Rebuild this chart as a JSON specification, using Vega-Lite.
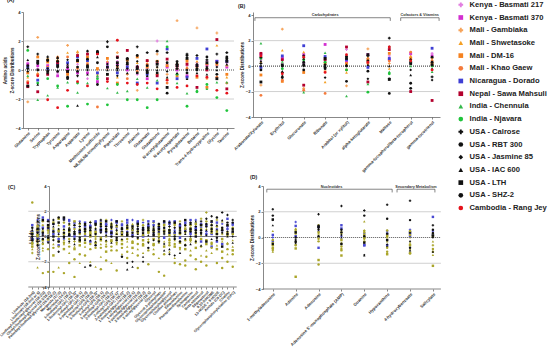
{
"$schema": "https://vega.github.io/schema/vega-lite/v6.json",
"autosize": {"type": "none"},
"padding": {"left": 23, "top": 12, "right": 527, "bottom": 341},
"config": {
 "font": "Liberation Sans",
 "view": {"stroke": null},
 "axis": {"labelFontSize": 4.2, "labelFontWeight": "bold", "labelColor": "#333", "titleFontSize": 4.6, "titleFontWeight": "bold", "titleColor": "#222", "tickSize": 2, "tickColor": "#555", "domainColor": "#555", "domainWidth": 0.7, "tickWidth": 0.7, "grid": false, "labelPadding": 1, "titlePadding": 1},
 "axisX": {"labelAngle": -45, "labelLimit": 0, "title": null},
 "axisY": {"values": [-4, -2, 0, 2, 4]},
 "legend": {"orient": "none", "legendX": 434, "legendY": -11, "labelFontSize": 7.6, "labelFontWeight": "bold", "labelColor": "#222", "symbolSize": 22, "rowPadding": 3.7, "padding": 0, "labelOffset": 5},
 "title": {"fontSize": 5.2, "fontWeight": "bold", "anchor": "start", "frame": "group", "color": "#222"}
},
"datasets": {
 "vars": [{"key":"a","variety":"Kenya - Basmati 217"},{"key":"b","variety":"Kenya - Basmati 370"},{"key":"c","variety":"Mali - Gambiaka"},{"key":"d","variety":"Mali - Shwetasoke"},{"key":"e","variety":"Mali - DM-16"},{"key":"f","variety":"Mali - Khao Gaew"},{"key":"g","variety":"Nicaragua - Dorado"},{"key":"h","variety":"Nepal - Sawa Mahsuli"},{"key":"i","variety":"India - Chennula"},{"key":"j","variety":"India - Njavara"},{"key":"k","variety":"USA - Calrose"},{"key":"l","variety":"USA - RBT 300"},{"key":"m","variety":"USA - Jasmine 85"},{"key":"n","variety":"USA - IAC 600"},{"key":"o","variety":"USA - LTH"},{"key":"p","variety":"USA - SHZ-2"},{"key":"q","variety":"Cambodia - Rang Jey"}],
 "A": [
  {"name":"Glutamine","a":0.5,"b":0.4,"c":-2.2,"d":-0.5,"e":-0.2,"f":-0.8,"g":0.2,"h":-1.15,"i":-0.4,"j":1.35,"k":1.6,"l":0.1,"m":-0.1,"n":0.7,"o":-1.1,"p":0.3,"q":-0.9},
  {"name":"Serine","a":0.1,"b":0.3,"c":2.25,"d":-0.2,"e":0.9,"f":-0.3,"g":-0.7,"h":-1.5,"i":-2.05,"j":-0.9,"k":1.1,"l":0,"m":0.5,"n":-1,"o":0.6,"p":0.45,"q":-0.4},
  {"name":"Tryptophan","a":0.6,"b":0.3,"c":0.75,"d":0.8,"e":0.55,"f":0.2,"g":0.1,"h":-0.3,"i":-1.75,"j":-0.6,"k":0.9,"l":0.65,"m":0.1,"n":-0.2,"o":-0.1,"p":0.7,"q":-2.05},
  {"name":"Tyrosine","a":-0.2,"b":-0.4,"c":0.9,"d":0.7,"e":0.6,"f":0.85,"g":0.4,"h":0.5,"i":-1.2,"j":-1.1,"k":0.2,"l":-0.1,"m":0.8,"n":0.9,"o":0.3,"p":0.6,"q":-2.6},
  {"name":"Asparagine","a":0.3,"b":0.1,"c":1.7,"d":1.2,"e":-0.3,"f":0.9,"g":0.5,"h":-0.1,"i":-0.85,"j":-2.5,"k":0.2,"l":-0.5,"m":0.7,"n":0.4,"o":-0.1,"p":-0.6,"q":-1.4},
  {"name":"Aspartate","a":0.4,"b":-0.2,"c":1.2,"d":1.3,"e":0.6,"f":0.1,"g":0.9,"h":1,"i":-1.55,"j":-0.9,"k":-0.4,"l":0.2,"m":0.7,"n":-2.45,"o":0.65,"p":-0.1,"q":-0.8},
  {"name":"Lysine","a":-0.6,"b":-0.2,"c":0.5,"d":0.8,"e":0.9,"f":0.4,"g":0.65,"h":1.1,"i":-0.9,"j":-2.35,"k":1.3,"l":0.3,"m":0,"n":-0.3,"o":0.2,"p":0.75,"q":-1.1},
  {"name":"Methionine sulfoxide","a":-0.5,"b":-0.8,"c":0,"d":-0.3,"e":0.1,"f":-2.55,"g":-0.2,"h":1.15,"i":-0.4,"j":-0.6,"k":1.2,"l":0.5,"m":1.3,"n":0.9,"o":1.25,"p":-1,"q":1.1},
  {"name":"N6,N6,N6-trimethyllysine","a":0.3,"b":0.5,"c":-0.3,"d":0.6,"e":0.8,"f":0.1,"g":0.2,"h":-0.6,"i":-1.25,"j":-2.4,"k":1.95,"l":1.6,"m":0.4,"n":0,"o":-0.3,"p":0.2,"q":-0.8},
  {"name":"Pipecolate","a":0.6,"b":0.4,"c":1.2,"d":-0.5,"e":-0.9,"f":0.2,"g":-0.2,"h":0.9,"i":-1.55,"j":-1,"k":0.3,"l":0.1,"m":-0.4,"n":0,"o":0.5,"p":0.85,"q":2.05},
  {"name":"Threonine","a":0.3,"b":0,"c":-0.3,"d":0.6,"e":0.7,"f":-0.6,"g":0.2,"h":1.35,"i":-1.45,"j":-2.05,"k":0.8,"l":0.4,"m":0.1,"n":-0.2,"o":0.75,"p":0.5,"q":-0.9},
  {"name":"Alanine","a":-0.3,"b":0.2,"c":-1.4,"d":0.5,"e":0.9,"f":-0.1,"g":-0.9,"h":0.2,"i":-0.6,"j":-2.05,"k":1.6,"l":1,"m":0.6,"n":0.3,"o":0.1,"p":-0.2,"q":-1},
  {"name":"Glutamate","a":0.1,"b":-0.6,"c":0.6,"d":0.7,"e":0.2,"f":0.4,"g":-0.3,"h":0.65,"i":-1.2,"j":-2.6,"k":1.2,"l":-0.2,"m":0,"n":-0.4,"o":-0.1,"p":0.3,"q":-0.9},
  {"name":"Glutathione","a":2,"b":0.5,"c":1.1,"d":0.2,"e":0.6,"f":-0.3,"g":-0.9,"h":-0.4,"i":-0.7,"j":-2.05,"k":0.6,"l":1.3,"m":0.2,"n":0,"o":0.4,"p":-0.2,"q":-1.3},
  {"name":"N-acetylglutamine","a":0.4,"b":0.2,"c":-0.3,"d":-0.6,"e":0.3,"f":-0.9,"g":1.45,"h":0.75,"i":2,"j":1.6,"k":1.2,"l":0.5,"m":-0.1,"n":-0.5,"o":-1.2,"p":-1.6,"q":-0.7},
  {"name":"N-acetylaspartate","a":0.2,"b":0,"c":3.4,"d":0.5,"e":-0.4,"f":0.1,"g":-0.6,"h":0.3,"i":-0.9,"j":-0.3,"k":0.6,"l":0.4,"m":0.55,"n":-0.2,"o":0.3,"p":0.1,"q":-1.2},
  {"name":"Pyroglutamine","a":0.3,"b":-0.4,"c":0.5,"d":0.2,"e":0.65,"f":0.1,"g":-0.5,"h":0.4,"i":-1.6,"j":-2.5,"k":1.1,"l":-0.2,"m":0,"n":-0.6,"o":0.8,"p":1,"q":-1.1},
  {"name":"Betaine","a":0.5,"b":0.3,"c":2.9,"d":0.6,"e":-0.5,"f":0.2,"g":0.8,"h":-1.2,"i":-1.4,"j":-1.5,"k":1,"l":0.1,"m":0.4,"n":-0.2,"o":0.3,"p":0,"q":-0.4},
  {"name":"Trans-4-hydroxyproline","a":0.6,"b":0.3,"c":-0.6,"d":0.2,"e":-1.2,"f":0.4,"g":1.45,"h":0,"i":-1.3,"j":-1,"k":0.7,"l":0.9,"m":0.2,"n":-0.3,"o":0.5,"p":0.1,"q":-0.5},
  {"name":"Glycine","a":0.3,"b":0.6,"c":2.55,"d":1.7,"e":0.4,"f":-0.5,"g":0.6,"h":2.1,"i":-0.85,"j":-1.9,"k":1.1,"l":-0.3,"m":0.2,"n":0,"o":-0.6,"p":0.5,"q":-1.4},
  {"name":"Taurine","a":0.5,"b":0.2,"c":0.3,"d":-0.5,"e":-0.3,"f":-0.9,"g":0.6,"h":-1.3,"i":-0.85,"j":-2.8,"k":1.2,"l":0.9,"m":0.7,"n":0.4,"o":0.6,"p":0.8,"q":-1.6}
 ],
 "B": [
  {"name":"Arabonate/Xylonate","a":0.5,"b":0.9,"c":-1.5,"d":0.3,"e":-0.7,"f":-2.3,"g":-0.1,"h":1,"i":1.8,"j":0.6,"k":0.2,"l":-0.3,"m":0,"n":0.4,"o":-1.25,"p":0.7,"q":0.8},
  {"name":"Erythritol","a":0.7,"b":0.6,"c":2.9,"d":1.25,"e":-1.2,"f":-1.1,"g":0.8,"h":0.5,"i":0.35,"j":-0.2,"k":-0.5,"l":0,"m":-0.8,"n":-0.4,"o":0.1,"p":-0.9,"q":-0.6},
  {"name":"Glucuronate","a":0.2,"b":0.9,"c":-1.75,"d":1.1,"e":-0.5,"f":-1.9,"g":1.6,"h":-1.5,"i":-2.05,"j":0.5,"k":0.8,"l":0.3,"m":0,"n":0.6,"o":0.1,"p":-0.3,"q":0.7},
  {"name":"Ribonate","a":0.4,"b":1.7,"c":-0.4,"d":-1.25,"e":0.2,"f":-2.15,"g":0.75,"h":0.5,"i":1.05,"j":0.3,"k":-0.1,"l":0.1,"m":-0.9,"n":0,"o":0.6,"p":-0.2,"q":-0.5},
  {"name":"Arabitol (or xylitol)","a":1.3,"b":0.3,"c":-1.55,"d":-0.5,"e":0.2,"f":-0.3,"g":0.5,"h":1.5,"i":-2.35,"j":-0.3,"k":0.75,"l":-1.2,"m":0.8,"n":0.1,"o":0.6,"p":0,"q":0.9},
  {"name":"alpha-ketoglutarate","a":0.6,"b":0.9,"c":1.35,"d":0.7,"e":0.5,"f":0.2,"g":-0.1,"h":-1.25,"i":-1.4,"j":-2.05,"k":0.8,"l":0.4,"m":-1,"n":0.1,"o":0.9,"p":-0.4,"q":0.3},
  {"name":"Maltose","a":0.8,"b":0.5,"c":0.2,"d":-0.2,"e":1,"f":0.4,"g":0.6,"h":1.3,"i":-0.45,"j":-0.6,"k":2.2,"l":-1,"m":1.5,"n":0,"o":-1.05,"p":-2.15,"q":1.5},
  {"name":"gamma-tocopherol/beta-tocopherol","a":0.9,"b":1,"c":0.7,"d":0.8,"e":0.6,"f":1.1,"g":0.3,"h":-2,"i":0,"j":0.35,"k":0.5,"l":-1.35,"m":-0.3,"n":-0.7,"o":0.2,"p":-1.75,"q":0.4},
  {"name":"gamma-tocotrienol","a":1,"b":0.8,"c":0.6,"d":0.5,"e":0.2,"f":0.4,"g":1.4,"h":-2.7,"i":-0.45,"j":0,"k":-0.85,"l":0.3,"m":-1.1,"n":-0.2,"o":0.1,"p":0.7,"q":-0.3}
 ],
 "C": [
  {"name":"Linoleate (18:2n6)","a":0.4,"b":-0.2,"c":-1.3,"d":0.1,"e":-0.8,"f":2.7,"g":0.9,"h":-0.5,"i":-1,"j":0.3,"k":0,"l":-0.3,"m":0.5,"n":-0.1,"o":0.2,"p":0.7,"q":-0.6},
  {"name":"Linolenate (18:3n3 or 6)","a":1.3,"b":0.4,"c":-0.6,"d":0.2,"e":0.8,"f":-0.4,"g":-0.1,"h":0.5,"i":-2.45,"j":0,"k":-0.7,"l":0.3,"m":1.2,"n":-0.2,"o":0.6,"p":-0.4,"q":0.1},
  {"name":"Linoleoyl-linolenoyl-glycerol (18:2/3)","a":0.2,"b":0.7,"c":0.9,"d":-1.1,"e":-0.3,"f":1.2,"g":1.5,"h":0.4,"i":-0.9,"j":-2.9,"k":0.1,"l":-0.2,"m":0.6,"n":-0.5,"o":1.3,"p":0.3,"q":-0.6},
  {"name":"Oleoyl-linoleoyl-glycerol (18:1/18:2)","a":-0.4,"b":0.6,"c":-0.3,"d":0.3,"e":0.8,"f":-1,"g":1.3,"h":-0.2,"i":0.4,"j":-2.8,"k":0.7,"l":1.2,"m":-0.5,"n":0.1,"o":0.9,"p":-0.1,"q":0.5},
  {"name":"Palmitoyl-linoleoyl-glycerol (16:0/18:2)","a":0.5,"b":1,"c":0.6,"d":-0.6,"e":-1.5,"f":0.3,"g":0.2,"h":1.1,"i":-0.2,"j":-2.8,"k":1.3,"l":0.4,"m":-0.3,"n":0.8,"o":0,"p":1,"q":-0.9},
  {"name":"Margarate (17:0)","a":0.3,"b":-0.7,"c":0,"d":0.9,"e":-0.4,"f":0.5,"g":-0.2,"h":1.4,"i":-2.45,"j":-0.8,"k":-1.2,"l":1.5,"m":0.6,"n":0.2,"o":1.1,"p":-0.4,"q":0.4},
  {"name":"Myristate (14:0)","a":-0.2,"b":1.4,"c":0.5,"d":-0.3,"e":0.2,"f":1.1,"g":0.8,"h":-1,"i":-0.6,"j":-2.9,"k":1.3,"l":0.3,"m":-0.1,"n":0.6,"o":1.5,"p":0,"q":-0.5},
  {"name":"1-linoleoyl-GPC (18:2)","a":1.2,"b":0.1,"c":0.9,"d":-0.5,"e":0.4,"f":-0.2,"g":1.3,"h":0.6,"i":-1.3,"j":-2.1,"k":1,"l":0.2,"m":-0.4,"n":0.7,"o":0.5,"p":0.1,"q":-0.8},
  {"name":"1-linolenoyl-GPC (18:3)*","a":0.7,"b":1.1,"c":-0.4,"d":0.3,"e":-1,"f":0.6,"g":0,"h":1.2,"i":-0.8,"j":-1.8,"k":0.4,"l":-0.2,"m":0.3,"n":-0.6,"o":0.2,"p":0.9,"q":-3.2},
  {"name":"1-oleoyl-GPC (18:1)","a":1.2,"b":0.3,"c":0.6,"d":-0.2,"e":-0.7,"f":1,"g":0.4,"h":-0.4,"i":-2.1,"j":0.2,"k":0.8,"l":-0.1,"m":0.3,"n":1.1,"o":-0.3,"p":0.5,"q":-1.4},
  {"name":"1-palmitoyl-GPC (16:0)","a":0.1,"b":0.8,"c":1,"d":0.3,"e":-0.5,"f":-0.2,"g":1.1,"h":0.5,"i":-0.8,"j":-1.5,"k":0.9,"l":0.4,"m":-0.3,"n":-2.4,"o":0.6,"p":1,"q":0.2},
  {"name":"1-stearoyl-GPE (18:0)","a":0.9,"b":-0.4,"c":0.4,"d":1.2,"e":0,"f":-0.6,"g":0.8,"h":0.2,"i":-2,"j":-1,"k":1.1,"l":0.5,"m":0.1,"n":-0.3,"o":0.7,"p":-2.3,"q":0.3},
  {"name":"1-linoleoyl-GPE (18:2)*","a":0.5,"b":1.1,"c":-0.2,"d":0.7,"e":0.3,"f":-0.9,"g":1.2,"h":-0.5,"i":-2.4,"j":0,"k":0.9,"l":0.2,"m":0.6,"n":-0.4,"o":1,"p":-0.7,"q":0.4},
  {"name":"1-oleoyl-GPE (18:1)","a":1.2,"b":0.4,"c":0.9,"d":-0.6,"e":-0.3,"f":1.1,"g":0.6,"h":-0.1,"i":-1.6,"j":-0.9,"k":1.3,"l":0.8,"m":0.3,"n":-0.2,"o":0.5,"p":1,"q":-2.6},
  {"name":"1-palmitoyl-GPE (16:0)","a":0.3,"b":0.9,"c":1.3,"d":0,"e":0.5,"f":-0.4,"g":1,"h":-1.2,"i":-0.6,"j":-1.9,"k":0.8,"l":0.4,"m":0.1,"n":-0.3,"o":1.2,"p":0.6,"q":-0.8},
  {"name":"2-linoleoyl-GPC (18:2)*","a":1.3,"b":0.2,"c":0.6,"d":1.1,"e":-0.3,"f":-0.8,"g":0.4,"h":0.9,"i":-2.1,"j":-0.4,"k":0.7,"l":0,"m":1,"n":-0.5,"o":0.3,"p":0.8,"q":-1.1},
  {"name":"2-oleoyl-GPE (18:1)*","a":0.7,"b":1.2,"c":-0.2,"d":0.4,"e":0.8,"f":-1.1,"g":1.1,"h":0.2,"i":-0.6,"j":-2.7,"k":0.5,"l":-0.3,"m":0.9,"n":0.2,"o":1.2,"p":-0.1,"q":-0.5},
  {"name":"2-palmitoyl-GPC (16:0)*","a":1,"b":0.3,"c":1.2,"d":0.6,"e":-0.6,"f":0.1,"g":0.9,"h":-0.3,"i":-1.4,"j":-0.9,"k":0.4,"l":-1.6,"m":0.7,"n":-0.2,"o":0.6,"p":0.2,"q":0.3},
  {"name":"1-linoleoylglycerol (18:2)","a":0.4,"b":1.1,"c":0.8,"d":-0.4,"e":0.2,"f":-1.2,"g":1.3,"h":0.6,"i":-0.8,"j":-1.7,"k":0.9,"l":0.3,"m":-2.1,"n":-2.6,"o":0.1,"p":0.7,"q":-0.2},
  {"name":"1-oleoylglycerol (18:1)","a":1.3,"b":0.5,"c":0.2,"d":1,"e":-0.5,"f":0.7,"g":0.1,"h":-0.9,"i":-1.3,"j":-0.4,"k":0.6,"l":0,"m":-2,"n":-2.4,"o":0.8,"p":0.3,"q":0.5},
  {"name":"1-palmitoylglycerol (16:0)","a":0.6,"b":1.2,"c":0.9,"d":-0.2,"e":0.4,"f":-0.6,"g":1.1,"h":0.3,"i":-1,"j":-1.5,"k":0.4,"l":-0.1,"m":0.8,"n":0.2,"o":1,"p":0.6,"q":-2.5},
  {"name":"2-linoleoylglycerol (18:2)","a":1.1,"b":0,"c":1.3,"d":0.5,"e":-0.3,"f":0.9,"g":0.6,"h":-0.7,"i":-1.3,"j":-0.6,"k":0.3,"l":0.7,"m":-2,"n":-1.6,"o":0.5,"p":0.2,"q":0.1},
  {"name":"2-oleoylglycerol (18:1)","a":0.8,"b":1.2,"c":-0.4,"d":0.3,"e":0.6,"f":-1.1,"g":0.9,"h":0.4,"i":-0.2,"j":-2.2,"k":1,"l":0.5,"m":-0.5,"n":0.1,"o":0.7,"p":-0.9,"q":0.3},
  {"name":"Glycerol","a":0.2,"b":0.9,"c":1.1,"d":0.7,"e":-0.2,"f":0.4,"g":1.2,"h":-0.6,"i":-1,"j":-1.4,"k":0.6,"l":0.3,"m":-0.3,"n":0.8,"o":0.1,"p":0.5,"q":-0.7},
  {"name":"Glycerol 3-phosphate","a":1,"b":0.4,"c":0.5,"d":-0.5,"e":0.9,"f":-0.3,"g":0.7,"h":0.2,"i":-1.7,"j":-2.8,"k":0.8,"l":1,"m":-0.1,"n":0.4,"o":0.6,"p":-0.4,"q":0},
  {"name":"Glycerophosphoinositol*","a":0.6,"b":1.1,"c":0.3,"d":1,"e":-0.8,"f":0.5,"g":-0.1,"h":0.9,"i":-0.4,"j":-1.4,"k":0.2,"l":0.7,"m":-0.6,"n":-1.1,"o":1.2,"p":0.4,"q":-3.1},
  {"name":"Glycerophosphoglycerol","a":1.2,"b":0.3,"c":-0.2,"d":0.6,"e":0.4,"f":-0.7,"g":1,"h":0.1,"i":-1.2,"j":-0.5,"k":0.8,"l":0.3,"m":-1.4,"n":-1,"o":0.5,"p":1.1,"q":-0.3},
  {"name":"Choline phosphate","a":0.5,"b":1.2,"c":0.9,"d":-0.3,"e":0.2,"f":1,"g":0.3,"h":-0.8,"i":-1.7,"j":-0.6,"k":0.7,"l":-0.2,"m":-1.5,"n":0.4,"o":1.1,"p":0,"q":-2.1},
  {"name":"Ethanolamine","a":0.8,"b":-0.1,"c":1.2,"d":0.4,"e":-0.5,"f":0.6,"g":0.9,"h":0.2,"i":-1,"j":-2.2,"k":0.5,"l":-0.4,"m":1,"n":-1.3,"o":0.3,"p":0.7,"q":-0.9},
  {"name":"Phosphoethanolamine","a":1,"b":0.5,"c":0.3,"d":0.8,"e":-1,"f":-0.3,"g":1.1,"h":0.6,"i":-0.6,"j":-1.9,"k":0.4,"l":0.9,"m":-0.2,"n":0.2,"o":1.3,"p":-0.7,"q":-2.3},
  {"name":"Sphingosine","a":0.3,"b":1.3,"c":0.7,"d":-0.4,"e":0.5,"f":0.9,"g":0.2,"h":-0.2,"i":-1.1,"j":-1.5,"k":1.1,"l":0.4,"m":0,"n":-0.6,"o":0.6,"p":1,"q":-0.3},
  {"name":"Campesterol","a":1.3,"b":0.6,"c":-0.5,"d":0.4,"e":1,"f":0.2,"g":0.7,"h":-0.9,"i":-0.3,"j":-1.8,"k":0.8,"l":0.3,"m":-0.4,"n":1.2,"o":0,"p":0.5,"q":-2.6},
  {"name":"Beta-sitosterol","a":0.7,"b":1,"c":1.4,"d":0.1,"e":-0.2,"f":0.6,"g":-0.4,"h":0.9,"i":-1.5,"j":-0.8,"k":1.2,"l":0.5,"m":0.2,"n":-0.7,"o":0.9,"p":0.3,"q":-2},
  {"name":"Stigmasterol","a":0.4,"b":0.9,"c":1.9,"d":0.6,"e":-0.6,"f":1.2,"g":0.2,"h":-0.3,"i":-1.1,"j":-1.6,"k":1.4,"l":0.8,"m":0.1,"n":0.5,"o":-0.4,"p":1,"q":-2.3},
  {"name":"9,10-DiHOME","a":1.1,"b":0.2,"c":0.7,"d":1,"e":0.3,"f":-0.5,"g":-0.8,"h":0.5,"i":-1.3,"j":-0.9,"k":1.6,"l":0.9,"m":0.4,"n":-0.2,"o":1.2,"p":0.6,"q":-0.6},
  {"name":"13-HODE + 9-HODE","a":0.6,"b":-0.4,"c":1.3,"d":0.3,"e":-1,"f":0.8,"g":1.1,"h":0.2,"i":-0.7,"j":-2.1,"k":0.5,"l":1.5,"m":-0.3,"n":0.9,"o":0.2,"p":-0.1,"q":0.4},
  {"name":"Azelate (C9-DC)","a":1,"b":0.5,"c":0.2,"d":1.2,"e":-0.2,"f":0.6,"g":-0.6,"h":-1.2,"i":-0.4,"j":-1.7,"k":1.9,"l":0.7,"m":0.3,"n":1.3,"o":-0.8,"p":0.5,"q":-2.5},
  {"name":"Choline","a":0.8,"b":1.4,"c":0.9,"d":-0.5,"e":0.3,"f":-1,"g":0.6,"h":0.1,"i":-1.4,"j":-0.6,"k":1.7,"l":1.1,"m":0.4,"n":0,"o":0.9,"p":0.2,"q":-2},
  {"name":"Glycerophosphorylcholine (GPC)","a":0.9,"b":0.3,"c":0.6,"d":-0.3,"e":-1.1,"f":0.7,"g":1,"h":0.2,"i":-0.8,"j":-1.4,"k":1.3,"l":0.6,"m":0,"n":-0.5,"o":0.4,"p":1.1,"q":-2.4}
 ],
 "D": [
  {"name":"1-methyladenosine","a":0,"b":-0.3,"c":-1,"d":-1.1,"e":-0.8,"f":-0.6,"g":0.2,"h":-0.45,"i":0.5,"j":-0.2,"k":2.2,"l":1.7,"m":1.35,"n":0.95,"o":1.4,"p":-0.5,"q":-0.9},
  {"name":"Adenine","a":1.2,"b":0.9,"c":0.5,"d":0.7,"e":-3.05,"f":0.3,"g":0.1,"h":-0.85,"i":-0.3,"j":0.6,"k":-0.2,"l":-0.35,"m":-0.5,"n":-0.25,"o":0.4,"p":0,"q":-0.6},
  {"name":"Adenosine","a":0.5,"b":0.8,"c":0.95,"d":0.7,"e":-1.75,"f":-2.1,"g":-0.8,"h":0.4,"i":0.3,"j":-0.3,"k":1.8,"l":0.8,"m":0.6,"n":0.7,"o":0.9,"p":0.1,"q":-0.1},
  {"name":"Adenosine 5'-monophosphate (AMP)","a":0.1,"b":0.7,"c":0.3,"d":-0.4,"e":-1.4,"f":-1,"g":0.95,"h":-0.2,"i":0.5,"j":-0.7,"k":2.45,"l":0.4,"m":0.2,"n":0,"o":-0.5,"p":0.6,"q":-0.9},
  {"name":"Guanine","a":0.3,"b":-0.6,"c":0.55,"d":0.5,"e":0.2,"f":-0.3,"g":-0.6,"h":0,"i":1.25,"j":0.4,"k":2.1,"l":1.7,"m":-1.35,"n":-1.4,"o":-0.4,"p":0.1,"q":-0.1},
  {"name":"Hypoxanthine","a":0.5,"b":0.3,"c":0.2,"d":0,"e":-1.3,"f":-1.1,"g":-0.6,"h":0.1,"i":-0.3,"j":0.55,"k":2.55,"l":1.45,"m":-0.7,"n":-0.5,"o":-0.2,"p":0.3,"q":-0.8},
  {"name":"4-hydroxybenzoate","a":0.6,"b":0.3,"c":0,"d":-0.4,"e":-1.2,"f":-1.25,"g":0.1,"h":-0.6,"i":-0.9,"j":0.2,"k":2.85,"l":1.35,"m":-0.3,"n":-1,"o":0.4,"p":-0.8,"q":0.5},
  {"name":"Salicylate","a":0.5,"b":0.2,"c":-0.6,"d":-1.35,"e":-2.2,"f":-1.1,"g":1.6,"h":0.1,"i":-0.3,"j":0.3,"k":0.95,"l":0.6,"m":0,"n":-1.1,"o":0.15,"p":0.35,"q":-0.9}
 ]
},
"bounds": "flush",
"columns": 2,
"spacing": {"row": 58, "column": 19},
"resolve": {"scale": {"color": "independent", "shape": "independent"}},
"concat": [
  {"width": 211, "height": 116,
   "title": {"text": "(A)", "dx": -16, "dy": 2, "offset": 0},
   "layer": [
    {"data": {"values": [{}]}, "mark": {"type": "rule", "color": "#c4c4c4", "strokeWidth": 0.8}, "encoding": {"y": {"datum": 2}}},
    {"data": {"values": [{}]}, "mark": {"type": "rule", "color": "#c4c4c4", "strokeWidth": 0.8}, "encoding": {"y": {"datum": -2}}},
    {"data": {"values": [{}]}, "mark": {"type": "rule", "color": "#555", "strokeWidth": 1.2, "strokeDash": [1, 1]}, "encoding": {"y": {"datum": 0}}},
    {"data": {"name": "A"},
     "transform": [{"fold": ["a","b","c","d","e","f","g","h","i","j","k","l","m","n","o","p","q"], "as": ["key", "z"]}, {"lookup": "key", "from": {"data": {"name": "vars"}, "key": "key", "fields": ["variety"]}}],
     "mark": {"type": "point", "filled": true, "size": 8, "opacity": 1},
     "encoding": {
      "x": {"field": "name", "type": "nominal", "sort": null, "scale": {"type": "point", "padding": 0.6, "align": 0.4}, "axis": {"title": null}},
      "y": {"field": "z", "type": "quantitative", "scale": {"domain": [-4, 4], "nice": false}, "axis": {"title": ["Amino acids", "Z-score Distributions"]}},
      "color": {"field": "variety", "type": "nominal", "title": null, "scale": {"domain": ["Kenya - Basmati 217","Kenya - Basmati 370","Mali - Gambiaka","Mali - Shwetasoke","Mali - DM-16","Mali - Khao Gaew","Nicaragua - Dorado","Nepal - Sawa Mahsuli","India - Chennula","India - Njavara","USA - Calrose","USA - RBT 300","USA - Jasmine 85","USA - IAC 600","USA - LTH","USA - SHZ-2","Cambodia - Rang Jey"], "range": ["#e27ee0","#d22fd0","#f6a35a","#f4a024","#f58220","#f47b3c","#3f3fd4","#b3002d","#33b84a","#1fc43b","#111111","#111111","#111111","#111111","#111111","#111111","#e5121b"]}},
      "shape": {"field": "variety", "type": "nominal", "title": null, "scale": {"domain": ["Kenya - Basmati 217","Kenya - Basmati 370","Mali - Gambiaka","Mali - Shwetasoke","Mali - DM-16","Mali - Khao Gaew","Nicaragua - Dorado","Nepal - Sawa Mahsuli","India - Chennula","India - Njavara","USA - Calrose","USA - RBT 300","USA - Jasmine 85","USA - IAC 600","USA - LTH","USA - SHZ-2","Cambodia - Rang Jey"], "range": ["cross","square","cross","triangle-up","square","circle","square","square","triangle-up","circle","cross","circle","diamond","triangle-up","square","circle","circle"]}}
     }}
   ]},
  {"width": 187, "height": 105,
    "title": {"text": "(B)", "dx": -15, "offset": 3},
    "layer": [
     {"data": {"values": [{}]}, "mark": {"type": "rule", "color": "#c4c4c4", "strokeWidth": 0.8}, "encoding": {"y": {"datum": 2}}},
     {"data": {"values": [{}]}, "mark": {"type": "rule", "color": "#c4c4c4", "strokeWidth": 0.8}, "encoding": {"y": {"datum": -2}}},
     {"data": {"values": [{}]}, "mark": {"type": "rule", "color": "#555", "strokeWidth": 1.2, "strokeDash": [1, 1]}, "encoding": {"y": {"datum": 0}}},
     {"data": {"name": "B"},
      "transform": [{"fold": ["a","b","c","d","e","f","g","h","i","j","k","l","m","n","o","p","q"], "as": ["key", "z"]}, {"lookup": "key", "from": {"data": {"name": "vars"}, "key": "key", "fields": ["variety"]}}],
      "mark": {"type": "point", "filled": true, "size": 8, "opacity": 1},
      "encoding": {
       "x": {"field": "name", "type": "nominal", "sort": null, "scale": {"type": "point", "padding": 0.37, "domain": ["Arabonate/Xylonate","Erythritol","Glucuronate","Ribonate","Arabitol (or xylitol)","alpha-ketoglutarate","Maltose","gamma-tocopherol/beta-tocopherol","gamma-tocotrienol"]}, "axis": {"title": null}},
       "y": {"field": "z", "type": "quantitative", "scale": {"domain": [-4, 4.25], "nice": false}, "axis": {"title": "Z-score Distributions"}},
       "color": {"field": "variety", "type": "nominal", "legend": null, "scale": {"domain": ["Kenya - Basmati 217","Kenya - Basmati 370","Mali - Gambiaka","Mali - Shwetasoke","Mali - DM-16","Mali - Khao Gaew","Nicaragua - Dorado","Nepal - Sawa Mahsuli","India - Chennula","India - Njavara","USA - Calrose","USA - RBT 300","USA - Jasmine 85","USA - IAC 600","USA - LTH","USA - SHZ-2","Cambodia - Rang Jey"], "range": ["#e27ee0","#d22fd0","#f6a35a","#f4a024","#f58220","#f47b3c","#3f3fd4","#b3002d","#33b84a","#1fc43b","#111111","#111111","#111111","#111111","#111111","#111111","#e5121b"]}},
       "shape": {"field": "variety", "type": "nominal", "legend": null, "scale": {"domain": ["Kenya - Basmati 217","Kenya - Basmati 370","Mali - Gambiaka","Mali - Shwetasoke","Mali - DM-16","Mali - Khao Gaew","Nicaragua - Dorado","Nepal - Sawa Mahsuli","India - Chennula","India - Njavara","USA - Calrose","USA - RBT 300","USA - Jasmine 85","USA - IAC 600","USA - LTH","USA - SHZ-2","Cambodia - Rang Jey"], "range": ["cross","square","cross","triangle-up","square","circle","square","square","triangle-up","circle","cross","circle","diamond","triangle-up","square","circle","circle"]}}
      }},
     {"data": {"values": [{"from": "Arabonate/Xylonate", "to": "Maltose"}]},
      "mark": {"type": "rule", "color": "#333", "strokeWidth": 0.6, "xOffset": -6, "x2Offset": 1},
      "encoding": {"x": {"field": "from", "type": "nominal"}, "x2": {"field": "to"}, "y": {"datum": 3.8}}},
     {"data": {"values": [{"from": "gamma-tocopherol/beta-tocopherol", "to": "gamma-tocotrienol"}]},
      "mark": {"type": "rule", "color": "#333", "strokeWidth": 0.6, "xOffset": -10, "x2Offset": 7},
      "encoding": {"x": {"field": "from", "type": "nominal"}, "x2": {"field": "to"}, "y": {"datum": 3.8}}},
     {"data": {"values": [{"at": "Arabonate/Xylonate"}]},
      "mark": {"type": "rule", "color": "#333", "strokeWidth": 0.6, "xOffset": -6},
      "encoding": {"x": {"field": "at", "type": "nominal"}, "y": {"datum": 3.8}, "y2": {"datum": 3.55}}},
     {"data": {"values": [{"at": "Maltose"}]},
      "mark": {"type": "rule", "color": "#333", "strokeWidth": 0.6, "xOffset": 1},
      "encoding": {"x": {"field": "at", "type": "nominal"}, "y": {"datum": 3.8}, "y2": {"datum": 3.55}}},
     {"data": {"values": [{"at": "gamma-tocopherol/beta-tocopherol"}]},
      "mark": {"type": "rule", "color": "#333", "strokeWidth": 0.6, "xOffset": -10},
      "encoding": {"x": {"field": "at", "type": "nominal"}, "y": {"datum": 3.8}, "y2": {"datum": 3.55}}},
     {"data": {"values": [{"at": "gamma-tocotrienol"}]},
      "mark": {"type": "rule", "color": "#333", "strokeWidth": 0.6, "xOffset": 7},
      "encoding": {"x": {"field": "at", "type": "nominal"}, "y": {"datum": 3.8}, "y2": {"datum": 3.55}}},
     {"data": {"values": [{"at": "Ribonate", "t": "Carbohydrates"}]},
      "mark": {"type": "text", "fontSize": 3.8, "dy": -2.5, "color": "#333", "fontWeight": "bold"},
      "encoding": {"x": {"field": "at", "type": "nominal"}, "y": {"datum": 3.8}, "text": {"field": "t"}}},
     {"data": {"values": [{"at": "gamma-tocopherol/beta-tocopherol", "t": "Cofactors & Vitamins"}]},
      "mark": {"type": "text", "fontSize": 3.8, "dy": -2.5, "dx": 9, "color": "#333", "fontWeight": "bold"},
      "encoding": {"x": {"field": "at", "type": "nominal"}, "y": {"datum": 3.8}, "text": {"field": "t"}}}
    ]},
  {"width": 211, "height": 101,
    "title": {"text": "(C)", "dx": -15, "offset": -6},
    "layer": [
     {"data": {"values": [{}]}, "mark": {"type": "rule", "color": "#c4c4c4", "strokeWidth": 0.8, "xOffset": -4, "x2Offset": 4}, "encoding": {"x": {"datum": "Linoleate (18:2n6)", "type": "nominal"}, "x2": {"datum": "Glycerophosphorylcholine (GPC)"}, "y": {"datum": 2}}},
     {"data": {"values": [{}]}, "mark": {"type": "rule", "color": "#c4c4c4", "strokeWidth": 0.8, "xOffset": -4, "x2Offset": 4}, "encoding": {"x": {"datum": "Linoleate (18:2n6)", "type": "nominal"}, "x2": {"datum": "Glycerophosphorylcholine (GPC)"}, "y": {"datum": -2}}},
     {"data": {"values": [{}]}, "mark": {"type": "rule", "color": "#7a7a8a", "strokeWidth": 1, "xOffset": -4, "x2Offset": 4}, "encoding": {"x": {"datum": "Linoleate (18:2n6)", "type": "nominal"}, "x2": {"datum": "Glycerophosphorylcholine (GPC)"}, "y": {"datum": 0}}},
     {"data": {"values": [{}]}, "mark": {"type": "rule", "color": "#555", "strokeWidth": 0.7, "xOffset": -4, "x2Offset": 4}, "encoding": {"x": {"datum": "Linoleate (18:2n6)", "type": "nominal"}, "x2": {"datum": "Glycerophosphorylcholine (GPC)"}, "y": {"datum": -4}}},
     {"data": {"name": "C"},
      "transform": [{"fold": ["a","b","c","d","e","f","g","h","i","j","k","l","m","n","o","p","q"], "as": ["key", "z"]}, {"lookup": "key", "from": {"data": {"name": "vars"}, "key": "key", "fields": ["variety"]}}],
      "mark": {"type": "point", "filled": true, "size": 6, "opacity": 1},
      "encoding": {
       "x": {"field": "name", "type": "nominal", "sort": null, "scale": {"type": "point", "padding": 3.65, "align": 0.88, "domain": ["Linoleate (18:2n6)","Linolenate (18:3n3 or 6)","Linoleoyl-linolenoyl-glycerol (18:2/3)","Oleoyl-linoleoyl-glycerol (18:1/18:2)","Palmitoyl-linoleoyl-glycerol (16:0/18:2)","Margarate (17:0)","Myristate (14:0)","1-linoleoyl-GPC (18:2)","1-linolenoyl-GPC (18:3)*","1-oleoyl-GPC (18:1)","1-palmitoyl-GPC (16:0)","1-stearoyl-GPE (18:0)","1-linoleoyl-GPE (18:2)*","1-oleoyl-GPE (18:1)","1-palmitoyl-GPE (16:0)","2-linoleoyl-GPC (18:2)*","2-oleoyl-GPE (18:1)*","2-palmitoyl-GPC (16:0)*","1-linoleoylglycerol (18:2)","1-oleoylglycerol (18:1)","1-palmitoylglycerol (16:0)","2-linoleoylglycerol (18:2)","2-oleoylglycerol (18:1)","Glycerol","Glycerol 3-phosphate","Glycerophosphoinositol*","Glycerophosphoglycerol","Choline phosphate","Ethanolamine","Phosphoethanolamine","Sphingosine","Campesterol","Beta-sitosterol","Stigmasterol","9,10-DiHOME","13-HODE + 9-HODE","Azelate (C9-DC)","Choline","Glycerophosphorylcholine (GPC)"]}, "axis": {"title": null, "domain": false, "labelFontSize": 3.6}},
       "y": {"field": "z", "type": "quantitative", "scale": {"domain": [-4, 4], "nice": false}, "axis": {"title": ["Lipids", "Z-score Distributions"], "offset": -26}},
       "color": {"field": "variety", "type": "nominal", "legend": null, "scale": {"domain": ["Kenya - Basmati 217","Kenya - Basmati 370","Mali - Gambiaka","Mali - Shwetasoke","Mali - DM-16","Mali - Khao Gaew","Nicaragua - Dorado","Nepal - Sawa Mahsuli","India - Chennula","India - Njavara","USA - Calrose","USA - RBT 300","USA - Jasmine 85","USA - IAC 600","USA - LTH","USA - SHZ-2","Cambodia - Rang Jey"], "range": ["#4a4ad2","#4a4ad2","#aaa52a","#aaa52a","#aaa52a","#aaa52a","#4a4ad2","#aaa52a","#aaa52a","#aaa52a","#111111","#111111","#111111","#111111","#111111","#111111","#aaa52a"]}},
       "shape": {"field": "variety", "type": "nominal", "legend": null, "scale": {"domain": ["Kenya - Basmati 217","Kenya - Basmati 370","Mali - Gambiaka","Mali - Shwetasoke","Mali - DM-16","Mali - Khao Gaew","Nicaragua - Dorado","Nepal - Sawa Mahsuli","India - Chennula","India - Njavara","USA - Calrose","USA - RBT 300","USA - Jasmine 85","USA - IAC 600","USA - LTH","USA - SHZ-2","Cambodia - Rang Jey"], "range": ["cross","square","cross","triangle-up","square","circle","square","square","triangle-up","circle","cross","circle","diamond","triangle-up","square","circle","circle"]}}
      }}
    ]},
  {"width": 188, "height": 103,
   "title": {"text": "(D)", "dx": -3, "offset": 4},
   "layer": [
    {"data": {"values": [{}]}, "mark": {"type": "rule", "color": "#c4c4c4", "strokeWidth": 0.8, "xOffset": -10, "x2Offset": 8}, "encoding": {"x": {"datum": "1-methyladenosine", "type": "nominal"}, "x2": {"datum": "Salicylate"}, "y": {"datum": 2}}},
    {"data": {"values": [{}]}, "mark": {"type": "rule", "color": "#c4c4c4", "strokeWidth": 0.8, "xOffset": -10, "x2Offset": 8}, "encoding": {"x": {"datum": "1-methyladenosine", "type": "nominal"}, "x2": {"datum": "Salicylate"}, "y": {"datum": -2}}},
    {"data": {"values": [{}]}, "mark": {"type": "rule", "color": "#555", "strokeWidth": 1.2, "strokeDash": [1, 1], "xOffset": -10, "x2Offset": 8}, "encoding": {"x": {"datum": "1-methyladenosine", "type": "nominal"}, "x2": {"datum": "Salicylate"}, "y": {"datum": 0}}},
    {"data": {"values": [{}]}, "mark": {"type": "rule", "color": "#555", "strokeWidth": 0.7, "xOffset": -10, "x2Offset": 8}, "encoding": {"x": {"datum": "1-methyladenosine", "type": "nominal"}, "x2": {"datum": "Salicylate"}, "y": {"datum": -4}}},
    {"data": {"name": "D"},
     "transform": [{"fold": ["a","b","c","d","e","f","g","h","i","j","k","l","m","n","o","p","q"], "as": ["key", "z"]}, {"lookup": "key", "from": {"data": {"name": "vars"}, "key": "key", "fields": ["variety"]}}],
     "mark": {"type": "point", "filled": true, "size": 6, "opacity": 1},
     "encoding": {
      "x": {"field": "name", "type": "nominal", "sort": null, "scale": {"type": "point", "padding": 0.61, "align": 0.71, "domain": ["1-methyladenosine","Adenine","Adenosine","Adenosine 5'-monophosphate (AMP)","Guanine","Hypoxanthine","4-hydroxybenzoate","Salicylate"]}, "axis": {"title": null, "domain": false}},
      "y": {"field": "z", "type": "quantitative", "scale": {"domain": [-4, 4], "nice": false}, "axis": {"title": "Z-score Distributions", "offset": -10}},
      "color": {"field": "variety", "type": "nominal", "legend": null, "scale": {"domain": ["Kenya - Basmati 217","Kenya - Basmati 370","Mali - Gambiaka","Mali - Shwetasoke","Mali - DM-16","Mali - Khao Gaew","Nicaragua - Dorado","Nepal - Sawa Mahsuli","India - Chennula","India - Njavara","USA - Calrose","USA - RBT 300","USA - Jasmine 85","USA - IAC 600","USA - LTH","USA - SHZ-2","Cambodia - Rang Jey"], "range": ["#4a4ad2","#4a4ad2","#aaa52a","#aaa52a","#aaa52a","#aaa52a","#4a4ad2","#aaa52a","#aaa52a","#aaa52a","#111111","#111111","#111111","#111111","#111111","#111111","#aaa52a"]}},
      "shape": {"field": "variety", "type": "nominal", "legend": null, "scale": {"domain": ["Kenya - Basmati 217","Kenya - Basmati 370","Mali - Gambiaka","Mali - Shwetasoke","Mali - DM-16","Mali - Khao Gaew","Nicaragua - Dorado","Nepal - Sawa Mahsuli","India - Chennula","India - Njavara","USA - Calrose","USA - RBT 300","USA - Jasmine 85","USA - IAC 600","USA - LTH","USA - SHZ-2","Cambodia - Rang Jey"], "range": ["cross","square","cross","triangle-up","square","circle","square","square","triangle-up","circle","cross","circle","diamond","triangle-up","square","circle","circle"]}}
     }},
    {"data": {"values": [{"from": "1-methyladenosine", "to": "Hypoxanthine"}]},
     "mark": {"type": "rule", "color": "#333", "strokeWidth": 0.6, "xOffset": -6, "x2Offset": 5},
     "encoding": {"x": {"field": "from", "type": "nominal"}, "x2": {"field": "to"}, "y": {"datum": 3.75}}},
    {"data": {"values": [{"from": "4-hydroxybenzoate", "to": "Salicylate"}]},
     "mark": {"type": "rule", "color": "#333", "strokeWidth": 0.6, "xOffset": -13, "x2Offset": 2},
     "encoding": {"x": {"field": "from", "type": "nominal"}, "x2": {"field": "to"}, "y": {"datum": 3.75}}},
    {"data": {"values": [{"at": "1-methyladenosine"}]},
     "mark": {"type": "rule", "color": "#333", "strokeWidth": 0.6, "xOffset": -6},
     "encoding": {"x": {"field": "at", "type": "nominal"}, "y": {"datum": 3.75}, "y2": {"datum": 3.5}}},
    {"data": {"values": [{"at": "Hypoxanthine"}]},
     "mark": {"type": "rule", "color": "#333", "strokeWidth": 0.6, "xOffset": 5},
     "encoding": {"x": {"field": "at", "type": "nominal"}, "y": {"datum": 3.75}, "y2": {"datum": 3.5}}},
    {"data": {"values": [{"at": "4-hydroxybenzoate"}]},
     "mark": {"type": "rule", "color": "#333", "strokeWidth": 0.6, "xOffset": -13},
     "encoding": {"x": {"field": "at", "type": "nominal"}, "y": {"datum": 3.75}, "y2": {"datum": 3.5}}},
    {"data": {"values": [{"at": "Salicylate"}]},
     "mark": {"type": "rule", "color": "#333", "strokeWidth": 0.6, "xOffset": 2},
     "encoding": {"x": {"field": "at", "type": "nominal"}, "y": {"datum": 3.75}, "y2": {"datum": 3.5}}},
    {"data": {"values": [{"at": "Adenosine", "t": "Nucleotides"}]},
     "mark": {"type": "text", "fontSize": 3.8, "dy": -2.5, "dx": 13, "color": "#333", "fontWeight": "bold"},
     "encoding": {"x": {"field": "at", "type": "nominal"}, "y": {"datum": 3.75}, "text": {"field": "t"}}},
    {"data": {"values": [{"at": "4-hydroxybenzoate", "t": "Secondary Metabolism"}]},
     "mark": {"type": "text", "fontSize": 3.8, "dy": -2.5, "dx": 6, "color": "#333", "fontWeight": "bold"},
     "encoding": {"x": {"field": "at", "type": "nominal"}, "y": {"datum": 3.75}, "text": {"field": "t"}}}
   ]}
]
}
